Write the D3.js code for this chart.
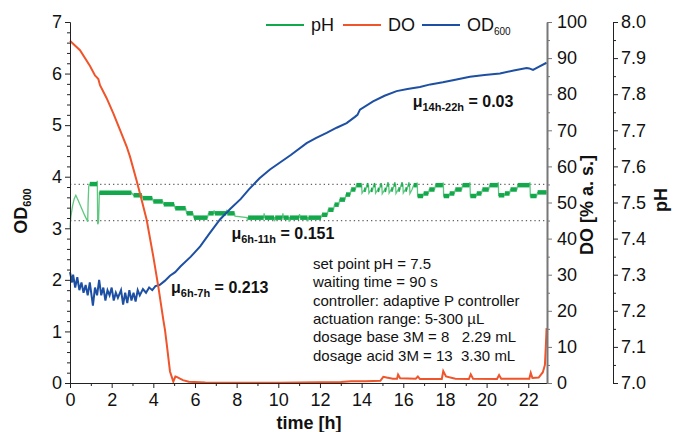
<!DOCTYPE html>
<html>
<head>
<meta charset="utf-8">
<script src="https://cdn.jsdelivr.net/npm/d3@7"></script>
<style>
  body { margin: 0; background: #fff; }
  text { font-family: "Liberation Sans", Arial, sans-serif; fill: #111; }
</style>
</head>
<body>
<svg id="chart" width="674" height="432"></svg>
<script>
// ---- data: [time h, value] ----
const odData = [[0,2.15],[0.1,1.95],[0.15,2.1],[0.25,1.85],[0.35,2.05],[0.45,1.8],[0.55,1.95],[0.65,1.75],[0.75,1.9],[0.85,1.7],
  [0.95,1.95],[1.05,1.65],[1.1,1.5],[1.2,1.85],[1.3,1.7],[1.4,2.0],[1.5,1.7],[1.6,1.85],[1.7,1.6],[1.8,1.8],[1.9,1.7],[2.0,1.85],
  [2.1,1.6],[2.2,1.75],[2.3,1.65],[2.45,1.8],[2.55,1.52],[2.65,1.75],[2.75,1.55],[2.85,1.8],[2.95,1.6],[3.05,1.75],[3.15,1.58],
  [3.25,1.8],[3.35,1.7],[3.5,1.82],[3.65,1.75],[3.8,1.85],[3.95,1.8],[4.1,1.88],[4.3,1.9],[4.55,1.98],[4.8,2.08],[5.05,2.15],
  [5.3,2.26],[5.8,2.45],[6.25,2.65],[6.7,2.9],[7.2,3.17],[7.7,3.38],[8.2,3.57],[8.6,3.76],[9.1,3.97],[9.6,4.14],[10.1,4.28],
  [10.6,4.42],[11.36,4.65],[11.8,4.75],[12.32,4.85],[12.8,4.95],[13.28,5.04],[13.68,5.16],[13.8,5.2],[13.92,5.3],[14.55,5.46],
  [15.1,5.57],[15.68,5.66],[16.2,5.7],[16.8,5.74],[17.3,5.79],[17.9,5.83],[18.5,5.88],[19.2,5.94],[19.9,5.97],[20.64,6.0],
  [21.3,6.06],[21.92,6.11],[22.05,6.1],[22.23,6.07],[22.5,6.13],[22.88,6.21]];

const doData = [[0,94.8],[0.11,94.2],[0.48,92.2],[0.96,87.8],[1.2,85.2],[1.3,84.6],[1.36,84.2],[1.44,82.5],[1.76,78.9],[2.08,74.7],
  [2.4,70.1],[2.72,65.5],[2.88,62.7],[3.2,56],[3.44,50.7],[3.68,45.2],[4.0,35],[4.24,26.7],[4.48,17.5],[4.56,14.7],[4.64,11],
  [4.8,3.2],[4.96,0.4],[5.06,1.8],[5.12,1.7],[5.42,0.8],[5.7,0.35],[6.5,0.15],[8,0.1],[10,0.1],[11,0.15],[12,0.2],[13,0.3],
  [13.5,0.5],[14.2,0.5],[14.9,0.6],[15.04,1.7],[15.2,1.5],[15.5,1.2],[15.7,1.2],[15.75,2.3],[15.85,1.3],[16.6,1.2],[16.7,1.8],
  [16.8,1.1],[17.85,1.1],[17.92,3.3],[18.05,1.8],[18.5,1.2],[19.15,1.1],[19.24,2.4],[19.35,1.2],[20.5,1.1],[20.6,2.2],[20.7,1.2],
  [22.05,1.2],[22.12,2.8],[22.2,1.4],[22.5,1.5],[22.7,3],[22.8,5],[22.85,11],[22.88,15.2]];

const phData = [[0,7.43],[0.04,7.46],[0.12,7.49],[0.2,7.51],[0.28,7.52],[0.4,7.505],[0.55,7.485],[0.7,7.465],[0.85,7.447],
  [0.87,7.5],[0.9,7.545],[0.95,7.551],[1.3,7.551],[1.31,7.56],[1.33,7.44],[1.37,7.445],[1.41,7.527],[2.95,7.527],[3.05,7.52],
  [3.45,7.52],[3.5,7.512],[3.95,7.512],[4.0,7.503],[4.45,7.503],[4.5,7.495],[5.0,7.495],[5.05,7.484],[5.55,7.484],[5.6,7.47],
  [5.9,7.47],[5.95,7.458],[6.6,7.458],[6.65,7.47],[6.9,7.47],[6.92,7.478],[6.95,7.47],[7.5,7.47],[7.52,7.48],[7.55,7.47],
  [7.9,7.47],[7.92,7.462],[8.5,7.458],[8.52,7.45],[8.55,7.458],[9.3,7.458],[9.32,7.47],[9.35,7.458],[9.8,7.458],[9.82,7.448],
  [9.85,7.458],[10.2,7.458],[10.22,7.47],[10.25,7.458],[10.5,7.458],[10.52,7.447],[10.55,7.458],[11.0,7.458],[11.02,7.468],
  [11.05,7.458],[11.4,7.458],[11.42,7.448],[11.45,7.458],[12.05,7.458],[12.1,7.466],[12.35,7.466],[12.4,7.48],[12.65,7.48],
  [12.7,7.494],[12.9,7.494],[12.95,7.508],[13.2,7.508],[13.25,7.522],[13.45,7.522],[13.5,7.536],[13.7,7.536],[13.75,7.548],
  [14.0,7.548],[14.02,7.526],[14.12,7.535],[14.2,7.535],[14.25,7.548],[14.33,7.548],[14.35,7.526],[14.45,7.535],[14.53,7.535],
  [14.58,7.548],[14.65,7.548],[14.67,7.526],[14.77,7.535],[14.85,7.535],[14.9,7.548],[14.97,7.548],[14.99,7.524],[15.1,7.535],
  [15.18,7.535],[15.23,7.55],[15.3,7.55],[15.32,7.526],[15.42,7.536],[15.5,7.536],[15.56,7.55],[15.63,7.55],[15.65,7.525],
  [15.76,7.536],[15.84,7.536],[15.9,7.55],[15.98,7.55],[16.0,7.526],[16.1,7.536],[16.18,7.536],[16.24,7.55],[16.3,7.55],
  [16.32,7.525],[16.42,7.536],[16.5,7.548],[16.65,7.548],[16.67,7.555],[16.69,7.518],[16.95,7.518],[16.98,7.525],[17.2,7.525],
  [17.25,7.536],[17.5,7.536],[17.55,7.548],[17.9,7.548],[17.92,7.555],[17.94,7.518],[18.2,7.518],[18.23,7.525],[18.45,7.525],
  [18.5,7.536],[18.8,7.536],[18.85,7.548],[19.18,7.548],[19.2,7.556],[19.22,7.518],[19.5,7.518],[19.53,7.525],[19.75,7.525],
  [19.8,7.536],[20.1,7.536],[20.15,7.548],[20.54,7.548],[20.56,7.556],[20.58,7.52],[20.85,7.52],[20.88,7.525],[21.1,7.525],
  [21.15,7.536],[21.45,7.536],[21.5,7.548],[22.06,7.548],[22.08,7.556],[22.1,7.518],[22.4,7.518],[22.45,7.528],[22.88,7.528]];

const setBand = [7.45, 7.55];
const infoLines = ["set point pH = 7.5", "waiting time = 90 s", "controller: adaptive P controller",
  "actuation range: 5-300 \u00b5L", "dosage base 3M = 8   2.29 mL", "dosage acid 3M = 13  3.30 mL"];
const muLabels = [
  { sub: "14h-22h", val: "0.03", t: 16.45, od: 5.35 },
  { sub: "6h-11h", val: "0.151", t: 7.75, od: 2.8 },
  { sub: "6h-7h", val: "0.213", t: 4.85, od: 1.75 }
];

const colPH = "#13a84c", colPHline = "#5fc77f", colDO = "#f0542a", colOD = "#1d4fa3";

const svg = d3.select("#chart");
const x = d3.scaleLinear().domain([0, 22.9]).range([70, 547]);
const yOD = d3.scaleLinear().domain([0, 7]).range([383, 22]);
const yDO = d3.scaleLinear().domain([0, 100]).range([383, 22]);
const yPH = d3.scaleLinear().domain([7, 8]).range([383, 22]);

// dotted set point band
svg.selectAll(".band").data(setBand).join("line").attr("class", "band")
  .attr("x1", 70).attr("x2", 547).attr("y1", d => yPH(d)).attr("y2", d => yPH(d))
  .attr("stroke", "#666").attr("stroke-width", 1.3).attr("stroke-dasharray", "1.3,3");

// lines
var lineOD = d3.line().x(d => x(d[0])).y(d => yOD(d[1]));
var lineDO = d3.line().x(d => x(d[0])).y(d => yDO(d[1]));
var linePH = d3.line().x(d => x(d[0])).y(d => yPH(d[1]));

svg.append("path").attr("d", linePH(phData)).attr("fill", "none").attr("stroke", colPHline).attr("stroke-width", 1.3);
// plateau parts look thick (stacked square markers)
var flats = [];
for (var i = 1; i < phData.length; i++) {
  if (phData[i][1] === phData[i-1][1]) flats.push([phData[i-1], phData[i]]);
}
svg.selectAll(".flat").data(flats).join("line").attr("class", "flat")
  .attr("x1", d => x(d[0][0])).attr("x2", d => x(d[1][0]))
  .attr("y1", d => yPH(d[0][1])).attr("y2", d => yPH(d[1][1]))
  .attr("stroke", colPH).attr("stroke-width", 4.5);

svg.append("path").attr("d", lineOD(odData)).attr("fill", "none").attr("stroke", colOD).attr("stroke-width", 2);
svg.append("path").attr("d", lineDO(doData)).attr("fill", "none").attr("stroke", colDO).attr("stroke-width", 2);

// axes
function styleAxis(g, col) {
  g.selectAll("path,line").attr("stroke", col);
  g.selectAll("text").attr("font-size", 18).attr("fill", "#111")
    .style("font-family", '"Liberation Sans", Arial, sans-serif');
}
var minorOD = d3.range(0, 7.01, 0.2).filter(v => Math.abs(v - Math.round(v)) > 0.01);
svg.append("g").attr("transform", "translate(70,0)")
  .call(d3.axisLeft(yOD).tickValues(minorOD).tickSize(3).tickSizeOuter(0).tickFormat(""))
  .call(g => styleAxis(g, "#222"));
svg.append("g").attr("transform", "translate(70,0)")
  .call(d3.axisLeft(yOD).tickValues(d3.range(0, 8)).tickSize(5).tickPadding(3).tickSizeOuter(0).tickFormat(d3.format("d")))
  .call(g => styleAxis(g, "#222"));

svg.append("g").attr("transform", "translate(0,383)")
  .call(d3.axisBottom(x).tickValues(d3.range(1, 23, 2)).tickSize(3).tickSizeOuter(0).tickFormat(""))
  .call(g => styleAxis(g, "#222"));
svg.append("g").attr("transform", "translate(0,383)")
  .call(d3.axisBottom(x).tickValues(d3.range(0, 23, 2)).tickSize(5).tickPadding(5).tickSizeOuter(0).tickFormat(d3.format("d")))
  .call(g => styleAxis(g, "#222"));

svg.append("g").attr("transform", "translate(547,0)")
  .call(d3.axisRight(yDO).tickValues(d3.range(5, 100, 10)).tickSize(3).tickSizeOuter(0).tickFormat(""))
  .call(g => styleAxis(g, "#777"));
svg.append("g").attr("transform", "translate(547,0)")
  .call(d3.axisRight(yDO).tickValues(d3.range(0, 101, 10)).tickSize(5).tickPadding(5).tickSizeOuter(0).tickFormat(d3.format("d")))
  .call(g => styleAxis(g, "#777"))
  .call(g => g.select(".domain").attr("stroke-width", 2));

svg.append("g").attr("transform", "translate(613,0)")
  .call(d3.axisRight(yPH).tickValues(d3.range(7.05, 8, 0.1)).tickSize(3).tickSizeOuter(0).tickFormat(""))
  .call(g => styleAxis(g, "#222"));
svg.append("g").attr("transform", "translate(613,0)")
  .call(d3.axisRight(yPH).tickValues(d3.range(0, 11).map(k => 7 + k / 10)).tickSize(5).tickPadding(3).tickSizeOuter(0).tickFormat(d3.format(".1f")))
  .call(g => styleAxis(g, "#222"));

// axis titles
svg.append("text").attr("x", 309).attr("y", 429).attr("text-anchor", "middle")
  .attr("font-size", 18).attr("font-weight", "bold").text("time [h]");
var odT = svg.append("text").attr("transform", "translate(27,211) rotate(-90)").attr("text-anchor", "middle")
  .attr("font-size", 18).attr("font-weight", "bold");
odT.append("tspan").text("OD");
odT.append("tspan").attr("font-size", 11).attr("dy", 4).text("600");
svg.append("text").attr("transform", "translate(593,205) rotate(-90)").attr("text-anchor", "middle")
  .attr("font-size", 18).attr("font-weight", "bold").text("DO [% a. s.]");
svg.append("text").attr("transform", "translate(667,200) rotate(-90)").attr("text-anchor", "middle")
  .attr("font-size", 18).attr("font-weight", "bold").text("pH");

// legend
var legend = svg.append("g");
[[266, colPH, "pH"], [343, colDO, "DO"], [422, colOD, "OD"]].forEach(function (d) {
  legend.append("line").attr("x1", d[0]).attr("x2", d[0] + 38).attr("y1", 25).attr("y2", 25)
    .attr("stroke", d[1]).attr("stroke-width", 2);
  var t = legend.append("text").attr("x", d[0] + 45).attr("y", 31).attr("font-size", 18).text(d[2]);
  if (d[2] === "OD") t.append("tspan").attr("font-size", 10).attr("dy", 4).text("600");
});

// mu annotations
muLabels.forEach(function (m) {
  var t = svg.append("text").attr("x", x(m.t)).attr("y", yOD(m.od)).attr("font-size", 16).attr("font-weight", "bold");
  t.append("tspan").text("\u03bc");
  t.append("tspan").attr("font-size", 11).attr("dy", 4).text(m.sub);
  t.append("tspan").attr("dy", -4).text(" = " + m.val);
});

// info block
svg.append("g").selectAll("text").data(infoLines).join("text")
  .attr("x", 313).attr("y", (d, i) => 269 + i * 18.3)
  .attr("font-size", 15).style("white-space", "pre").text(d => d);
</script>
</body>
</html>
